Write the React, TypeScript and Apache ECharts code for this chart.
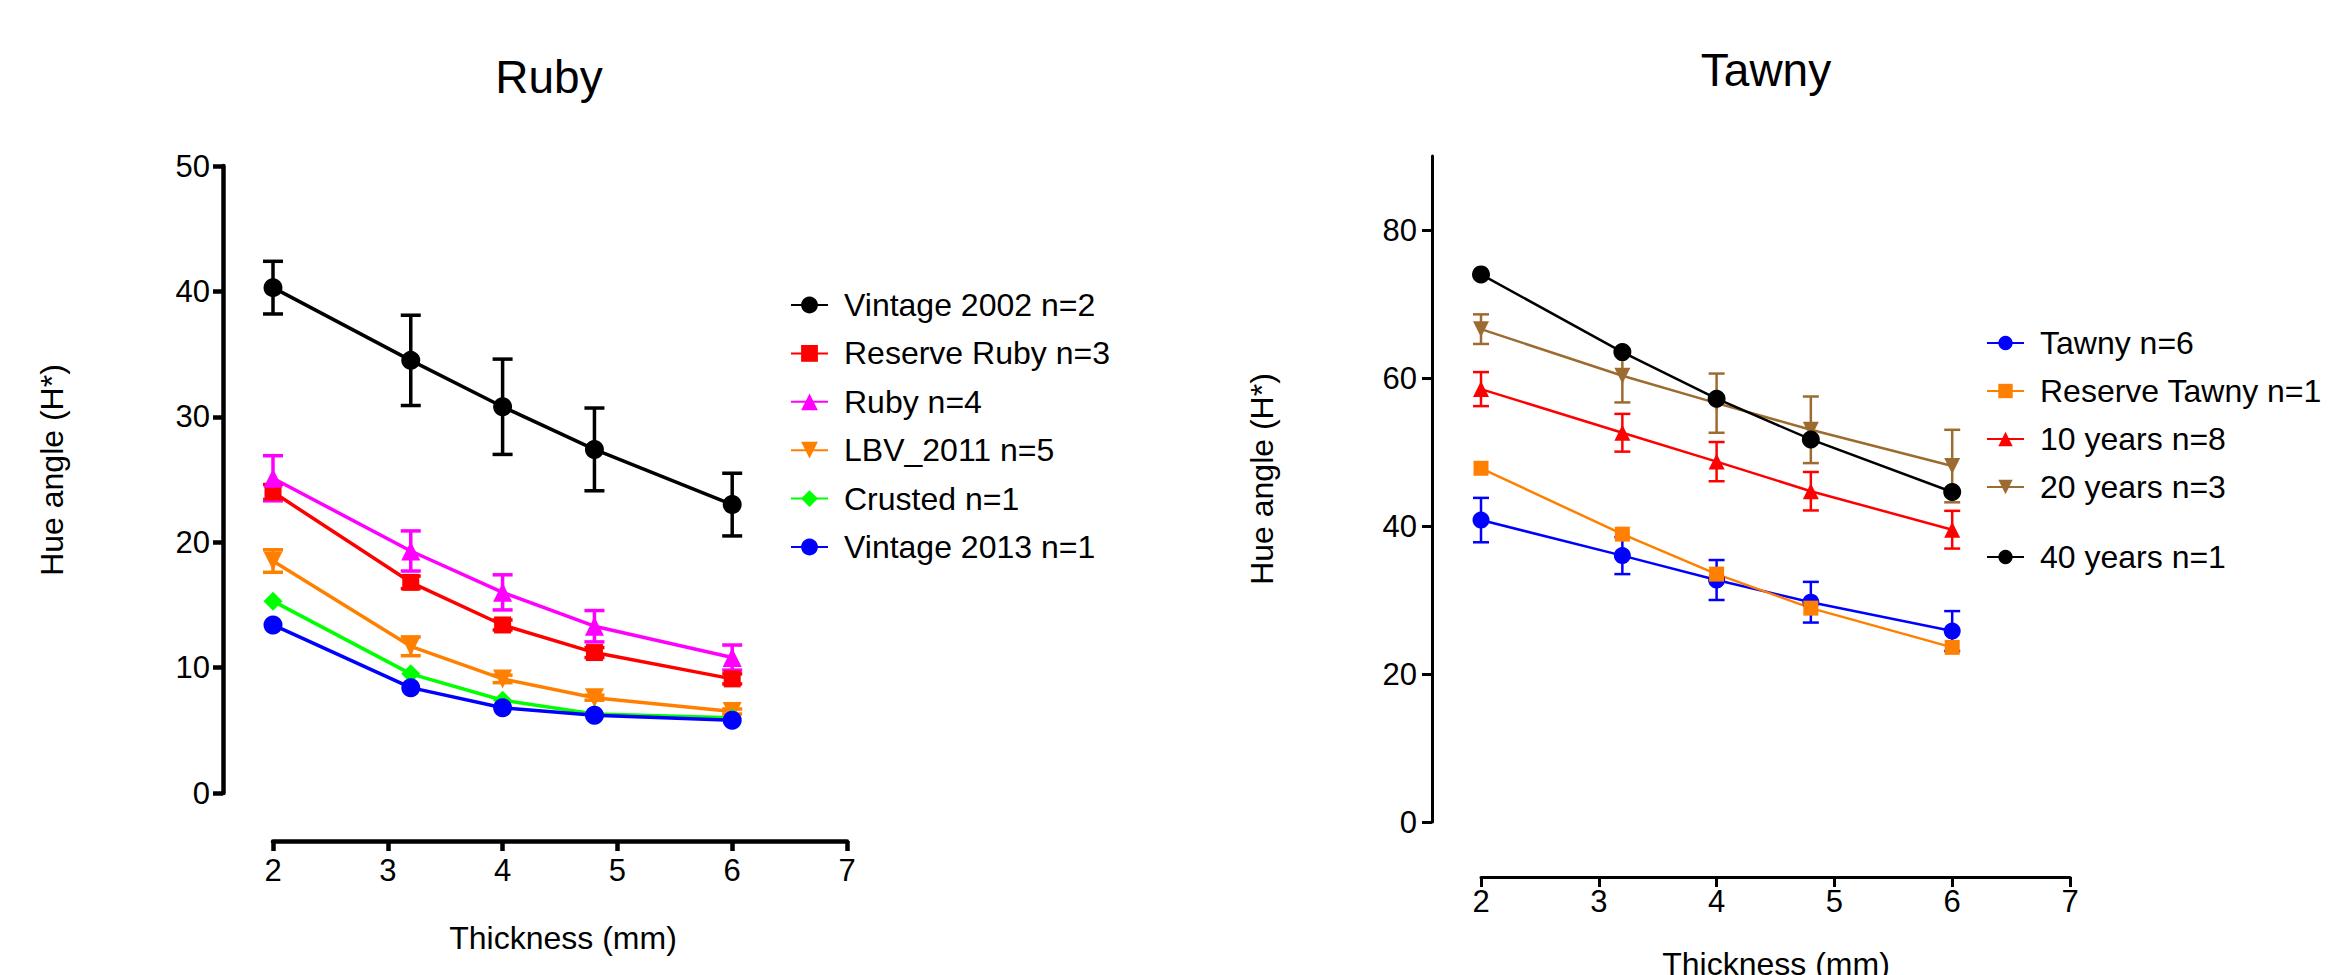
import React, { useEffect, useRef } from "react";
import * as echarts from "echarts";

const FONT = "'Liberation Sans', Arial, Helvetica, sans-serif";
const TICK_FONT = "'Liberation Sans Narrow', 'Arial Narrow', 'Liberation Sans', Arial, sans-serif";

// thickness (mm)
const thickness = [2, 3.2, 4, 4.8, 6];
const xTicks = [2, 3, 4, 5, 6, 7];
const rubyYTicks = [0, 10, 20, 30, 40, 50];
const tawnyYTicks = [0, 20, 40, 60, 80];

// Ruby panel
const rubyNames = [
  "Vintage 2002 n=2",
  "Reserve Ruby n=3",
  "Ruby n=4",
  "LBV_2011 n=5",
  "Crusted n=1",
  "Vintage 2013 n=1",
];
const vintage2002 = [40.3, 34.5, 30.8, 27.4, 23.0];
const vintage2002Err = [2.1, 3.6, 3.8, 3.3, 2.5];
const reserveRuby = [24.0, 16.8, 13.4, 11.2, 9.1];
const reserveRubyErr = [0.6, 0.5, 0.4, 0.4, 0.4];
const ruby = [25.1, 19.3, 16.0, 13.3, 10.8];
const rubyErr = [1.8, 1.6, 1.4, 1.25, 1.0];
const lbv2011 = [18.5, 11.7, 9.1, 7.6, 6.5];
const lbv2011Err = [0.9, 0.75, 0.3, 0.2, 0.2];
const crusted = [15.3, 9.5, 7.4, 6.3, 6.0];
const vintage2013 = [13.4, 8.4, 6.8, 6.2, 5.8];

// Tawny panel
const tawnyNames = [
  "Tawny n=6",
  "Reserve Tawny n=1",
  "10 years n=8",
  "20 years n=3",
  "40 years n=1",
];
const tawny = [40.8, 36.0, 32.7, 29.7, 25.8];
const tawnyErr = [3.0, 2.5, 2.7, 2.75, 2.7];
const reserveTawny = [47.8, 38.9, 33.5, 28.9, 23.6];
const years10 = [58.5, 52.6, 48.7, 44.7, 39.5];
const years10Err = [2.3, 2.55, 2.65, 2.6, 2.55];
const years20 = [66.6, 60.3, 56.6, 53.0, 48.1];
const years20Err = [2.0, 3.6, 4.0, 4.5, 4.9];
const years40 = [74.0, 63.5, 57.2, 51.7, 44.6];

type SeriesDef = {
  name: string;
  values: number[];
  err?: number[];
  color: string;
  symbol: string;
  rotate?: number;
  size: number;
};

const rubySeries: SeriesDef[] = [
  { name: rubyNames[0], values: vintage2002, err: vintage2002Err, color: "#000000", symbol: "circle", size: 19 },
  { name: rubyNames[1], values: reserveRuby, err: reserveRubyErr, color: "#FF0000", symbol: "rect", size: 17 },
  { name: rubyNames[2], values: ruby, err: rubyErr, color: "#FF00FF", symbol: "triangle", size: 19 },
  { name: rubyNames[3], values: lbv2011, err: lbv2011Err, color: "#FF8000", symbol: "triangle", rotate: 180, size: 19 },
  { name: rubyNames[4], values: crusted, color: "#00FF00", symbol: "diamond", size: 19 },
  { name: rubyNames[5], values: vintage2013, color: "#0000FF", symbol: "circle", size: 19 },
];

const tawnySeries: SeriesDef[] = [
  { name: tawnyNames[0], values: tawny, err: tawnyErr, color: "#0000FF", symbol: "circle", size: 17 },
  { name: tawnyNames[1], values: reserveTawny, color: "#FF8000", symbol: "rect", size: 15 },
  { name: tawnyNames[2], values: years10, err: years10Err, color: "#FF0000", symbol: "triangle", size: 16 },
  { name: tawnyNames[3], values: years20, err: years20Err, color: "#9C6B30", symbol: "triangle", rotate: 180, size: 16 },
  { name: tawnyNames[4], values: years40, color: "#000000", symbol: "circle", size: 18 },
];

function buildSeries(defs: SeriesDef[], axisIndex: number, lineWidth: number, capHalf: number) {
  const out: any[] = [];
  defs.forEach((d) => {
    if (d.err) {
      const err = d.err;
      out.push({
        type: "custom",
        name: d.name + " SEM",
        xAxisIndex: axisIndex,
        yAxisIndex: axisIndex,
        data: thickness.map((x, i) => [x, d.values[i] - err[i], d.values[i] + err[i]]),
        encode: { x: 0, y: [1, 2] },
        z: 2,
        silent: true,
        renderItem: (params: any, api: any) => {
          const x = api.value(0);
          const lo = api.coord([x, api.value(1)]);
          const hi = api.coord([x, api.value(2)]);
          const style = { stroke: d.color, lineWidth };
          return {
            type: "group",
            children: [
              { type: "line", shape: { x1: hi[0], y1: hi[1], x2: lo[0], y2: lo[1] }, style },
              { type: "line", shape: { x1: hi[0] - capHalf, y1: hi[1], x2: hi[0] + capHalf, y2: hi[1] }, style },
              { type: "line", shape: { x1: lo[0] - capHalf, y1: lo[1], x2: lo[0] + capHalf, y2: lo[1] }, style },
            ],
          };
        },
      });
    }
    out.push({
      type: "line",
      name: d.name,
      xAxisIndex: axisIndex,
      yAxisIndex: axisIndex,
      data: thickness.map((x, i) => [x, d.values[i]]),
      symbol: d.symbol,
      symbolSize: d.size,
      symbolRotate: d.rotate || 0,
      showSymbol: true,
      lineStyle: { color: d.color, width: lineWidth },
      itemStyle: { color: d.color },
      z: 3,
    });
  });
  return out;
}

function makeAxis(opts: {
  grid: number;
  min: number;
  max: number;
  interval: number;
  offset: number;
  width: number;
  margin: number;
  ticks: number[];
}) {
  return {
    type: "value",
    gridIndex: opts.grid,
    min: opts.min,
    max: opts.max,
    interval: opts.interval,
    offset: opts.offset,
    axisLine: { show: true, onZero: false, lineStyle: { color: "#000", width: opts.width } },
    axisTick: {
      show: true,
      length: 10,
      inside: false,
      lineStyle: { color: "#000", width: opts.width },
      customValues: opts.ticks,
    },
    axisLabel: {
      fontSize: 31,
      fontFamily: TICK_FONT,
      color: "#000",
      margin: opts.margin,
      customValues: opts.ticks,
    },
    splitLine: { show: false },
  };
}

export default function App() {
  const ref = useRef<HTMLDivElement>(null);

  useEffect(() => {
    document.body.style.margin = "0";
    const chart = echarts.init(ref.current!, null, { renderer: "svg" });

    const legendText = { fontSize: 32, fontFamily: FONT, color: "#000", lineHeight: 32, padding: [0, 0, 0, 11] };

    const option: any = {
      animation: false,
      backgroundColor: "#fff",
      grid: [
        { left: 273, top: 166, width: 574, height: 627 },
        { left: 1481, top: 156, width: 589, height: 666 },
      ],
      xAxis: [
        makeAxis({ grid: 0, min: 2, max: 7, interval: 1, offset: 48, width: 4.5, margin: 14, ticks: xTicks }),
        makeAxis({ grid: 1, min: 2, max: 7, interval: 1, offset: 55, width: 3, margin: 9, ticks: xTicks }),
      ],
      yAxis: [
        makeAxis({ grid: 0, min: 0, max: 50, interval: 10, offset: 50, width: 4.5, margin: 13, ticks: rubyYTicks }),
        makeAxis({ grid: 1, min: 0, max: 90, interval: 20, offset: 49, width: 3, margin: 15, ticks: tawnyYTicks }),
      ],
      legend: [
        {
          orient: "vertical",
          left: 785,
          top: 284,
          itemWidth: 37,
          itemHeight: 21,
          itemGap: 16.4,
          selectedMode: false,
          textStyle: legendText,
          data: rubyNames,
        },
        {
          orient: "vertical",
          left: 1981,
          top: 322,
          itemWidth: 37,
          itemHeight: 18,
          itemGap: 16,
          selectedMode: false,
          textStyle: legendText,
          data: tawnyNames.slice(0, 4),
        },
        {
          orient: "vertical",
          left: 1981,
          top: 536,
          itemWidth: 37,
          itemHeight: 18,
          selectedMode: false,
          textStyle: legendText,
          data: tawnyNames.slice(4),
        },
      ],
      graphic: [
        {
          type: "text",
          x: 549,
          y: 77,
          style: { text: "Ruby", fontSize: 46, fontFamily: FONT, fill: "#000", align: "center", verticalAlign: "middle" },
        },
        {
          type: "text",
          x: 1766,
          y: 70,
          style: { text: "Tawny", fontSize: 46, fontFamily: FONT, fill: "#000", align: "center", verticalAlign: "middle" },
        },
        {
          type: "text",
          x: 52,
          y: 470,
          rotation: Math.PI / 2,
          style: { text: "Hue angle (H*)", fontSize: 32, fontFamily: FONT, fill: "#000", align: "center", verticalAlign: "middle" },
        },
        {
          type: "text",
          x: 1262,
          y: 479,
          rotation: Math.PI / 2,
          style: { text: "Hue angle (H*)", fontSize: 32, fontFamily: FONT, fill: "#000", align: "center", verticalAlign: "middle" },
        },
        {
          type: "text",
          x: 563,
          y: 938,
          style: { text: "Thickness (mm)", fontSize: 32, fontFamily: FONT, fill: "#000", align: "center", verticalAlign: "middle" },
        },
        {
          type: "text",
          x: 1776,
          y: 964,
          style: { text: "Thickness (mm)", fontSize: 32, fontFamily: FONT, fill: "#000", align: "center", verticalAlign: "middle" },
        },
      ],
      series: [...buildSeries(rubySeries, 0, 3.5, 10), ...buildSeries(tawnySeries, 1, 2.5, 8)],
    };

    chart.setOption(option);
    return () => chart.dispose();
  }, []);

  return (
    <div
      ref={ref}
      style={{ position: "fixed", left: 0, top: 0, width: 2330, height: 975, background: "#fff" }}
    />
  );
}
